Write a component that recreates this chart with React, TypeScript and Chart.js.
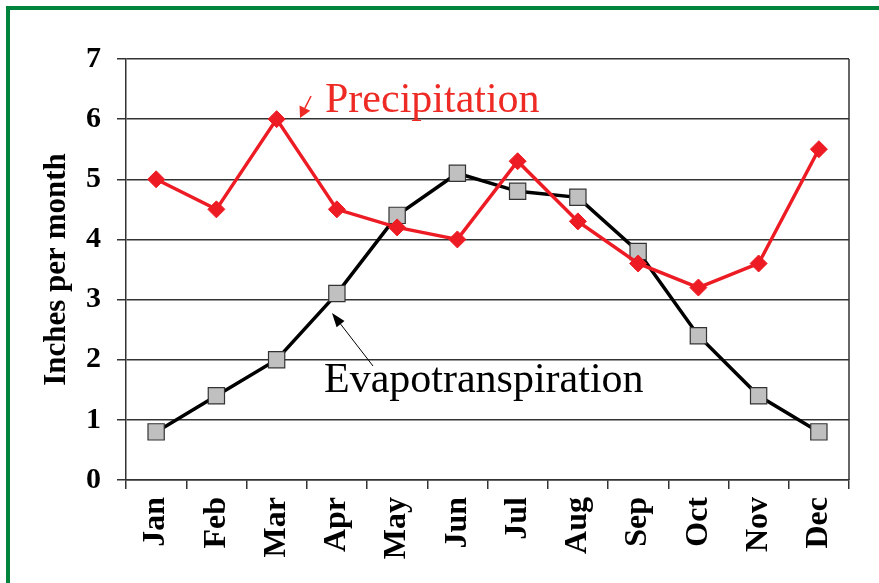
import React, { useEffect, useRef } from 'react';
import { Chart, registerables } from 'chart.js';

Chart.register(...registerables);

const months = ['Jan', 'Feb', 'Mar', 'Apr', 'May', 'Jun', 'Jul', 'Aug', 'Sep', 'Oct', 'Nov', 'Dec'];
const precipitation = [5.0, 4.5, 6.0, 4.5, 4.2, 4.0, 5.3, 4.3, 3.6, 3.2, 3.6, 5.5];
const evapotranspiration = [0.8, 1.4, 2.0, 3.1, 4.4, 5.1, 4.8, 4.7, 3.8, 2.4, 1.4, 0.8];
const yMin = 0;
const yMax = 7;
const yStep = 1;
const yTitle = 'Inches per month';
const precipLabel = 'Precipitation';
const etLabel = 'Evapotranspiration';

const SERIF = "'Liberation Serif', 'Times New Roman', serif";
const RED = '#ED1C24';
const TEXT_RED = '#EE2A24';
const GRID = '#333333';

function drawArrow(ctx: CanvasRenderingContext2D, x1: number, y1: number, x2: number, y2: number,
  headLen: number, headHalf: number, color: string, width: number) {
  const ang = Math.atan2(y2 - y1, x2 - x1);
  const bx = x2 - Math.cos(ang) * headLen;
  const by = y2 - Math.sin(ang) * headLen;
  ctx.strokeStyle = color;
  ctx.fillStyle = color;
  ctx.lineWidth = width;
  ctx.beginPath();
  ctx.moveTo(x1, y1);
  ctx.lineTo(bx, by);
  ctx.stroke();
  ctx.beginPath();
  ctx.moveTo(x2, y2);
  ctx.lineTo(bx + Math.sin(ang) * headHalf, by - Math.cos(ang) * headHalf);
  ctx.lineTo(bx - Math.sin(ang) * headHalf, by + Math.cos(ang) * headHalf);
  ctx.closePath();
  ctx.fill();
}

const framePlugin = {
  id: 'frameAndArrows',
  afterDraw(chart: any) {
    const { ctx, chartArea } = chart;
    ctx.save();
    ctx.strokeStyle = GRID;
    ctx.lineWidth = 1.5;
    ctx.beginPath();
    ctx.moveTo(chartArea.right, chartArea.top);
    ctx.lineTo(chartArea.right, chartArea.bottom);
    ctx.stroke();
    drawArrow(ctx, 373, 366, 332, 313, 14, 5, '#000000', 1);
    drawArrow(ctx, 311, 96, 300, 118, 11, 6, TEXT_RED, 1.5);
    ctx.restore();
  },
};

export default function App() {
  const ref = useRef<HTMLCanvasElement | null>(null);

  useEffect(() => {
    if (!ref.current) return;
    const chart = new Chart(ref.current, {
      type: 'line',
      data: {
        labels: months,
        datasets: [
          {
            label: precipLabel,
            data: precipitation,
            borderColor: RED,
            backgroundColor: RED,
            borderWidth: 3.5,
            pointStyle: 'rectRot',
            pointRadius: 8.5,
            pointBorderColor: RED,
            pointBackgroundColor: RED,
            pointBorderWidth: 1,
            tension: 0,
          },
          {
            label: etLabel,
            data: evapotranspiration,
            borderColor: '#000000',
            backgroundColor: '#C0C0C0',
            borderWidth: 3.5,
            pointStyle: 'rect',
            pointRadius: 11.5,
            pointBorderColor: '#333333',
            pointBackgroundColor: '#C0C0C0',
            pointBorderWidth: 1.2,
            tension: 0,
          },
        ],
      },
      options: {
        responsive: false,
        animation: false,
        layout: { padding: { top: 59, right: 30, bottom: 0, left: 0 } },
        plugins: {
          legend: { display: false },
          tooltip: { enabled: false },
        },
        scales: {
          x: {
            offset: true,
            grid: {
              offset: true,
              drawOnChartArea: false,
              drawTicks: true,
              tickLength: 9,
              color: GRID,
              lineWidth: 1.5,
            },
            border: { display: true, color: GRID, width: 1.5 },
            ticks: {
              autoSkip: false,
              minRotation: 90,
              maxRotation: 90,
              padding: 8,
              color: '#000000',
              font: { family: SERIF, size: 32, weight: 'bold' },
            },
            afterFit: (scale: any) => { scale.height = 103; },
          },
          y: {
            min: yMin,
            max: yMax,
            grid: {
              color: GRID,
              lineWidth: 1.5,
              drawTicks: true,
              tickLength: 9,
            },
            border: { display: true, color: GRID, width: 1.5 },
            ticks: {
              stepSize: yStep,
              padding: 16,
              color: '#000000',
              font: { family: SERIF, size: 30, weight: 'bold' },
            },
            title: {
              display: true,
              text: yTitle,
              color: '#000000',
              font: { family: SERIF, size: 31, weight: 'bold', lineHeight: 1 },
              padding: { top: 41, bottom: 0 },
            },
            afterFit: (scale: any) => { scale.width = 126; },
          },
        },
      },
      plugins: [framePlugin],
    });
    return () => chart.destroy();
  }, []);

  return (
    <div style={{ position: 'absolute', left: 0, top: 0, width: 879, height: 583, overflow: 'hidden', background: '#ffffff' }}>
      <div style={{
        position: 'absolute', left: 6, top: 6, width: 900, height: 600,
        borderTop: '4px solid #00843D', borderLeft: '4px solid #00843D',
      }} />
      <canvas ref={ref} width={879} height={583}
        style={{ position: 'absolute', left: 0, top: 0, width: 879, height: 583 }} />
      <div style={{
        position: 'absolute', left: 325, top: 77, fontFamily: SERIF, fontSize: 42,
        lineHeight: '42px', color: TEXT_RED, whiteSpace: 'nowrap',
      }}>{precipLabel}</div>
      <div style={{
        position: 'absolute', left: 324, top: 357, fontFamily: SERIF, fontSize: 42,
        lineHeight: '42px', color: '#000000', whiteSpace: 'nowrap',
      }}>{etLabel}</div>
    </div>
  );
}
